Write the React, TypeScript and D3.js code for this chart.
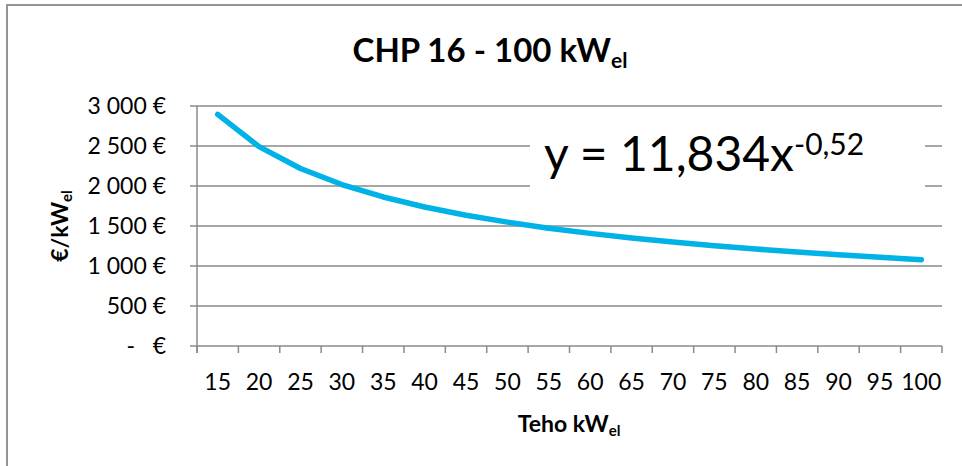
import React from "react";
import * as d3 from "d3";

const categories = ["15","20","25","30","35","40","45","50","55","60","65","70","75","80","85","90","95","100"];
const costValues = [2895,2492,2219,2018,1863,1738,1634,1548,1473,1408,1350,1299,1254,1212,1175,1140,1108,1079];
const yTicks = [0,500,1000,1500,2000,2500,3000];
const yTickLabels = ["-   €","500 €","1 000 €","1 500 €","2 000 €","2 500 €","3 000 €"];

const W = 962, H = 466;
const plot = { left: 197, right: 942, top: 106, bottom: 346 };
const FONT = "Lato, 'Open Sans', sans-serif";
const GRID = "#8a8a8a";

export default function App() {
  const x = d3.scaleBand<string>().domain(categories).range([plot.left, plot.right]).paddingInner(0).paddingOuter(0);
  const y = d3.scaleLinear().domain([0, 3000]).range([plot.bottom, plot.top]);
  const line = d3.line<number>()
    .x((_, i) => (x(categories[i]) as number) + x.bandwidth() / 2)
    .y((d) => y(d));
  const boundaries = categories.map((c) => x(c) as number).concat([plot.right]);

  return (
    <svg width={W} height={H} style={{ position: "absolute", left: 0, top: 0, background: "#fff" }} fontFamily={FONT}>
      <rect x={7} y={5} width={1000} height={600} fill="#fff" stroke="#959595" strokeWidth={2} />
      {/* gridlines */}
      {yTicks.map((t) => (
        <line key={"g" + t} x1={plot.left - 7} x2={plot.right} y1={y(t)} y2={y(t)} stroke={GRID} strokeWidth={1.5} />
      ))}
      {/* y axis */}
      <line x1={plot.left} x2={plot.left} y1={plot.top} y2={plot.bottom + 7} stroke={GRID} strokeWidth={1.5} />
      {/* x ticks */}
      {boundaries.map((b, i) => (
        <line key={"xt" + i} x1={b} x2={b} y1={plot.bottom} y2={plot.bottom + 7} stroke={GRID} strokeWidth={1.5} />
      ))}
      {/* y tick labels */}
      {yTicks.map((t, i) => (
        <text key={"yl" + t} x={166} y={y(t)} dy="0.35em" textAnchor="end" fontSize={23} fill="#000" style={{ whiteSpace: "pre" }}>
          {yTickLabels[i]}
        </text>
      ))}
      {/* x tick labels */}
      {categories.map((c) => (
        <text key={"xl" + c} x={(x(c) as number) + x.bandwidth() / 2} y={390} textAnchor="middle" fontSize={23} fill="#000">
          {c}
        </text>
      ))}
      {/* series */}
      <path d={line(costValues) || ""} fill="none" stroke="#00B2E6" strokeWidth={5.5} strokeLinecap="round" strokeLinejoin="round" />
      {/* title */}
      <text x={490} y={62} textAnchor="middle" fontSize={33} fontWeight="bold" fill="#000">
        CHP 16 - 100 kW<tspan fontSize={21} dy={6}>el</tspan>
      </text>
      {/* x axis title */}
      <text x={569} y={432} textAnchor="middle" fontSize={23} fontWeight="bold" fill="#000">
        Teho kW<tspan fontSize={15} dy={4}>el</tspan>
      </text>
      {/* y axis title */}
      <text transform={`translate(68, ${(plot.top + plot.bottom) / 2}) rotate(-90)`} textAnchor="middle" fontSize={23} fontWeight="bold" fill="#000">
        €/kW<tspan fontSize={15} dy={4}>el</tspan>
      </text>
      {/* equation label with white box */}
      <rect x={530} y={118} width={395} height={72} fill="#fff" />
      <text x={544} y={171} fontSize={48} fill="#000">
        y = 11,834x<tspan fontSize={30} dy={-16}>-0,52</tspan>
      </text>
    </svg>
  );
}
